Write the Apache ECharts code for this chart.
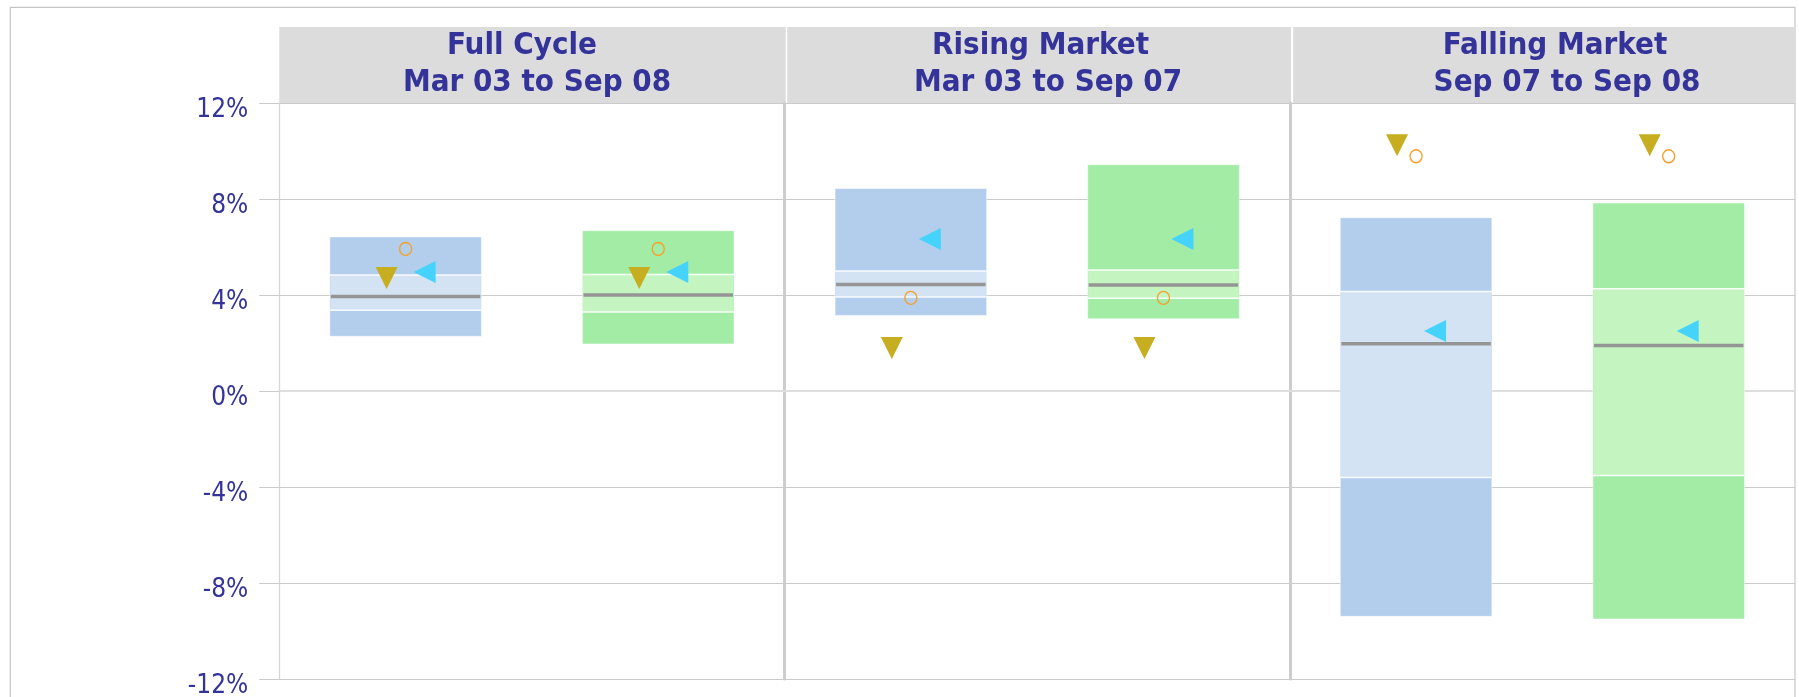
<!DOCTYPE html>
<html>
<head>
<meta charset="utf-8">
<script src="https://cdn.jsdelivr.net/npm/echarts@6/dist/echarts.min.js"></script>
<style>
html,body{margin:0;padding:0;background:#fff;}
#chart{width:1799px;height:697px;}
</style>
</head>
<body>
<div id="chart"></div>
<script>
// ---- data ----
const panelNames = ['Full Cycle', 'Rising Market', 'Falling Market'];
const panelPeriods = ['Mar 03 to Sep 08', 'Mar 03 to Sep 07', 'Sep 07 to Sep 08'];
const groups = ['Group 1', 'Group 2'];
const yTicks = [-12, -8, -4, 0, 4, 8, 12];

// group 1 (blue) ranges per panel
const blueHigh   = [6.42, 8.44, 7.22];
const blueQ3     = [4.83, 5.00, 4.15];
const blueMedian = [3.94, 4.44, 1.97];
const blueQ1     = [3.36, 3.92, -3.60];
const blueLow    = [2.28, 3.15, -9.39];

// group 2 (green) ranges per panel
const greenHigh   = [6.68, 9.43, 7.83];
const greenQ3     = [4.85, 5.04, 4.26];
const greenMedian = [4.00, 4.42, 1.90];
const greenQ1     = [3.29, 3.86, -3.52];
const greenLow    = [1.96, 3.01, -9.50];

// markers per panel (same for both groups)
const circleValues   = [5.92, 3.88, 9.78];
const downTriValues  = [4.71, 1.79, 10.24];
const leftTriValues  = [4.96, 6.33, 2.50];

// ---- styling ----
const darkFill = ['#b3ceec', '#a2eca6'];
const lightFill = ['#d3e3f4', '#c4f5c1'];
const textColor = '#333399';
const fontFam = '"DejaVu Sans Condensed", "DejaVu Sans", sans-serif';

const plotLeft = 279.3, plotRight = 1795, plotTop = 103, plotH = 576;
const panelW = (plotRight - plotLeft) / 3;

const grids = [], xAxes = [], yAxes = [], series = [];
for (let i = 0; i < 3; i++) {
  grids.push({left: plotLeft + i * panelW, top: plotTop, width: panelW, height: plotH,
    containLabel: false, outerBoundsMode: 'none'});
  xAxes.push({
    type: 'category', gridIndex: i, data: groups, boundaryGap: true,
    axisLine: {show: true, lineStyle: {color: '#dedede', width: 2}},
    axisTick: {show: false}, axisLabel: {show: false}, splitLine: {show: false}
  });
  yAxes.push({
    type: 'value', gridIndex: i, min: yTicks[0], max: yTicks[yTicks.length - 1], interval: 4,
    axisLine: {show: true, lineStyle: {color: i === 0 ? '#d6d6d6' : '#cdcdcd', width: i === 0 ? 1.3 : 3}},
    axisTick: {show: i === 0, length: 20, lineStyle: {color: '#cbcbcb', width: 1}},
    axisLabel: {
      show: i === 0, formatter: '{value}%', color: textColor, fontSize: 26,
      fontFamily: fontFam, margin: 31, verticalAlign: 'top', lineHeight: 14
    },
    splitLine: {show: true, lineStyle: {color: '#cbcbcb', width: 1}}
  });

  const boxData = [
    [0, blueLow[i], blueQ1[i], blueMedian[i], blueQ3[i], blueHigh[i], 0],
    [1, greenLow[i], greenQ1[i], greenMedian[i], greenQ3[i], greenHigh[i], 1]
  ];
  series.push({
    type: 'custom', xAxisIndex: i, yAxisIndex: i, z: 2,
    encode: {x: 0, y: [1, 2, 3, 4, 5]},
    data: boxData,
    renderItem: function (params, api) {
      const cat = api.value(0);
      const low = api.coord([cat, api.value(1)]);
      const q1 = api.coord([cat, api.value(2)]);
      const med = api.coord([cat, api.value(3)]);
      const q3 = api.coord([cat, api.value(4)]);
      const high = api.coord([cat, api.value(5)]);
      const g = api.value(6);
      const bw = api.size([1, 0])[0] * 0.6;
      const x0 = high[0] - bw / 2;
      return {
        type: 'group', children: [
          {type: 'rect', shape: {x: x0, y: high[1], width: bw, height: low[1] - high[1]},
           style: {fill: darkFill[g], stroke: 'rgba(255,255,255,0.5)', lineWidth: 1}},
          {type: 'rect', shape: {x: x0 + 0.5, y: q3[1], width: bw - 1, height: q1[1] - q3[1]},
           style: {fill: lightFill[g]}},
          {type: 'line', shape: {x1: x0, y1: q3[1], x2: x0 + bw, y2: q3[1]},
           style: {stroke: 'rgba(255,255,255,0.9)', lineWidth: 1.5}},
          {type: 'line', shape: {x1: x0, y1: q1[1], x2: x0 + bw, y2: q1[1]},
           style: {stroke: 'rgba(255,255,255,0.9)', lineWidth: 1.5}},
          {type: 'line', shape: {x1: x0 + 1, y1: med[1], x2: x0 + bw - 1, y2: med[1]},
           style: {stroke: '#959595', lineWidth: 3.5}}
        ]
      };
    }
  });

  series.push({
    type: 'scatter', xAxisIndex: i, yAxisIndex: i, z: 5,
    data: [[0, downTriValues[i]], [1, downTriValues[i]]],
    symbol: 'triangle', symbolSize: [22, 22], symbolRotate: 180, symbolOffset: [-19, 0],
    itemStyle: {color: '#c6ae20', opacity: 1}
  });
  series.push({
    type: 'scatter', xAxisIndex: i, yAxisIndex: i, z: 5,
    data: [[0, leftTriValues[i]], [1, leftTriValues[i]]],
    symbol: 'triangle', symbolSize: [22, 22], symbolRotate: 90, symbolOffset: [19, 0],
    itemStyle: {color: '#45d3fb', opacity: 1}
  });
  series.push({
    type: 'scatter', xAxisIndex: i, yAxisIndex: i, z: 5,
    data: [[0, circleValues[i]], [1, circleValues[i]]],
    symbol: 'circle', symbolSize: [12, 13],
    itemStyle: {color: 'rgba(0,0,0,0)', borderColor: '#f6a02c', borderWidth: 1.4, opacity: 1}
  });
}

// header bands and titles
const headerX = [[279.3, 785.7], [787.2, 1291], [1293.2, 1795]];
const line1X = [522, 1040.5, 1555];
const line2X = [537, 1048, 1567];
const graphics = [
  {type: 'rect', z: -10, shape: {x: 10.3, y: 7.3, width: 1784.7, height: 720},
   style: {fill: 'none', stroke: '#c6c6c6', lineWidth: 1.2}}
];
for (let i = 0; i < 3; i++) {
  graphics.push({type: 'rect', z: -5, shape: {x: headerX[i][0], y: 27, width: headerX[i][1] - headerX[i][0], height: 76},
    style: {fill: '#dcdcdc'}});
  graphics.push({type: 'text', z: 10, x: line1X[i], y: 45.8,
    style: {text: panelNames[i], fill: textColor, font: 'bold 31px ' + fontFam,
      align: 'center', verticalAlign: 'middle', textAlign: 'center', textVerticalAlign: 'middle'}});
  graphics.push({type: 'text', z: 10, x: line2X[i], y: 82.8,
    style: {text: panelPeriods[i], fill: textColor, font: 'bold 31px ' + fontFam,
      align: 'center', verticalAlign: 'middle', textAlign: 'center', textVerticalAlign: 'middle'}});
}

const chart = echarts.init(document.getElementById('chart'), null, {renderer: 'canvas'});
chart.setOption({
  animation: false,
  backgroundColor: '#ffffff',
  grid: grids,
  xAxis: xAxes,
  yAxis: yAxes,
  series: series,
  graphic: {elements: graphics}
});
</script>
</body>
</html>
